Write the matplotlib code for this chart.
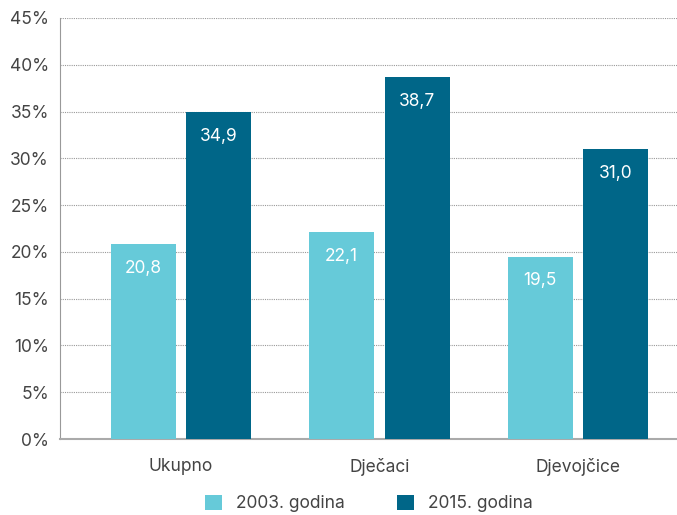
import matplotlib
matplotlib.use("Agg")
import matplotlib.pyplot as plt
import numpy as np
from matplotlib.ticker import FuncFormatter

plt.rcParams['font.family'] = ['Inter', 'DejaVu Sans']

categories = ['Ukupno', 'Dječaci', 'Djevojčice']
series_names = ['2003. godina', '2015. godina']
values_2003 = [20.8, 22.1, 19.5]
values_2015 = [34.9, 38.7, 31.0]

light = '#66CAD9'
dark = '#006688'
text_col = '#444444'

fig = plt.figure(figsize=(6.77, 5.15), dpi=100)
ax = fig.add_axes([60 / 677, 76 / 515, 617 / 677, 421 / 515])

x = np.arange(len(categories))
w = 0.328
off = 0.19
b1 = ax.bar(x - off, values_2003, w, color=light, label=series_names[0], zorder=3)
b2 = ax.bar(x + off, values_2015, w, color=dark, label=series_names[1], zorder=3)

# vrijednosti unutar stupaca
for bars, vals in ((b1, values_2003), (b2, values_2015)):
    for bar, v in zip(bars, vals):
        ax.text(bar.get_x() + bar.get_width() / 2, v - 2.6, f"{v:.1f}".replace('.', ','),
                color='white', ha='center', va='center', fontsize=12.5, zorder=4)

ax.set_ylim(0, 45)
ax.set_yticks(np.arange(0, 46, 5))
ax.yaxis.set_major_formatter(FuncFormatter(lambda v, p: f"{int(v)}%"))
ax.set_xlim(-0.61, 2.50)
ax.set_xticks(x)
ax.set_xticklabels(categories)
ax.tick_params(axis='both', length=0, colors=text_col, labelsize=12.5)
ax.tick_params(axis='x', pad=14)
ax.tick_params(axis='y', pad=8)

ax.grid(axis='y', linestyle=(0, (1, 1)), color='#999999', linewidth=0.8, zorder=0)
for s in ('top', 'right'):
    ax.spines[s].set_visible(False)
ax.spines['left'].set_color('#999999')
ax.spines['bottom'].set_color('#aaaaaa')
ax.spines['bottom'].set_linewidth(1.5)

fig.legend(loc='lower center', ncol=2, frameon=False, fontsize=12.5,
           bbox_to_anchor=(0.545, -0.025), handlelength=1.0, handleheight=1.0,
           columnspacing=3.0, labelcolor=text_col)

fig.savefig('out.png', dpi=100)
